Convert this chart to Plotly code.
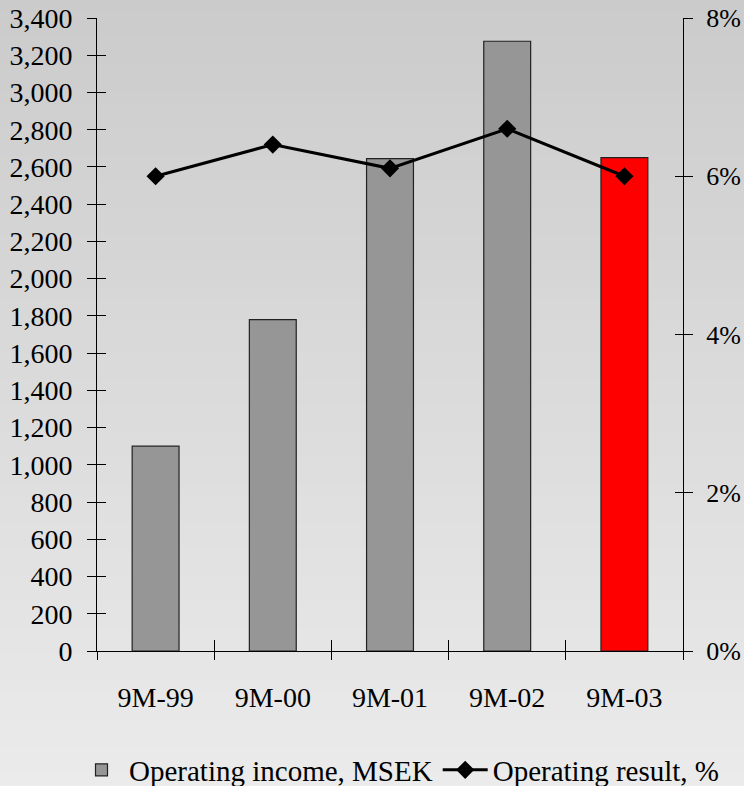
import plotly.graph_objects as go

categories = ["9M-99", "9M-00", "9M-01", "9M-02", "9M-03"]
operating_income = [1100, 1780, 2645, 3275, 2650]
operating_result = [6.0, 6.4, 6.1, 6.6, 6.0]
bar_colors = ["#969696", "#969696", "#969696", "#969696", "#ff0000"]

FONT = '"Times New Roman", "Liberation Serif", "DejaVu Serif", serif'
W, H = 744, 786
ML, MR, MT, MB = 97, 61, 18, 135
PW, PH = W - ML - MR, H - MT - MB

fig = go.Figure()
fig.add_trace(go.Bar(
    x=categories, y=operating_income, name="Operating income, MSEK",
    marker=dict(color=bar_colors, line=dict(color="#222222", width=1.2)),
    yaxis="y", xaxis="x",
))
fig.add_trace(go.Scatter(
    x=categories, y=operating_result, name="Operating result, %",
    mode="lines+markers", line=dict(color="black", width=3),
    marker=dict(symbol="diamond", size=14, color="black"),
    yaxis="y2", xaxis="x",
))
# invisible helper traces for inner ticks
fig.add_trace(go.Scatter(x=categories, y=operating_income, xaxis="x2", yaxis="y3",
                         mode="markers", marker=dict(opacity=0), showlegend=False,
                         hoverinfo="skip"))
fig.add_trace(go.Scatter(x=categories, y=operating_result, xaxis="x", yaxis="y4",
                         mode="markers", marker=dict(opacity=0), showlegend=False,
                         hoverinfo="skip"))

# background gradient bands
shapes = []
N = 60
for i in range(N):
    y0 = i / N
    y1 = (i + 1) / N
    c = int(round(203 + (235 - 203) * (i + 0.5) / N))
    py0 = (H - MB - y0 * H) / PH
    py1 = (H - MB - y1 * H) / PH
    shapes.append(dict(type="rect", xref="paper", yref="paper",
                       x0=-ML / PW - 0.01, x1=(W - ML) / PW + 0.01, y0=py1, y1=py0 + 0.002,
                       fillcolor=f"rgb({c},{c},{c})", line=dict(width=0), layer="below"))

tickfont = dict(family=FONT, size=28, color="black")
rtickfont = dict(family=FONT, size=26, color="black")

fig.update_layout(
    width=W, height=H,
    margin=dict(l=ML, r=MR, t=MT, b=MB, autoexpand=False),
    paper_bgcolor="#dcdcdc", plot_bgcolor="rgba(0,0,0,0)",
    font=dict(family=FONT, size=28, color="black"),
    shapes=shapes,
    bargap=0.6,
    showlegend=True,
    legend=dict(orientation="h", x=(74 - ML) / PW, xanchor="left", y=-0.188, yanchor="middle",
                font=dict(family=FONT, size=29, color="black"),
                bgcolor="rgba(0,0,0,0)", itemwidth=45, tracegroupgap=0),
    xaxis=dict(type="category", showline=True, linecolor="black", linewidth=1,
               ticks="outside", ticklen=8, tickcolor="black", tickson="boundaries",
               tickfont=tickfont, ticklabelstandoff=21, showgrid=False, zeroline=False,
               range=[-0.5, 4.5], automargin=False),
    xaxis2=dict(type="category", overlaying="x", anchor="y", showline=False,
                ticks="inside", ticklen=11, tickcolor="black", tickson="boundaries",
                showticklabels=False, showgrid=False, zeroline=False, range=[-0.5, 4.5]),
    yaxis=dict(range=[0, 3400], dtick=200, tickformat=",d", showline=True,
               linecolor="black", linewidth=1, ticks="outside", ticklen=9,
               tickcolor="black", tickfont=tickfont, ticklabelstandoff=9,
               showgrid=False, zeroline=False, automargin=False),
    yaxis2=dict(range=[0, 8], dtick=2, ticksuffix="%", overlaying="y", side="right",
                anchor="x", showline=True, linecolor="black", linewidth=1,
                ticks="outside", ticklen=9, tickcolor="black", tickfont=rtickfont,
                ticklabelstandoff=8, showgrid=False, zeroline=False, automargin=False),
    yaxis3=dict(range=[0, 3400], dtick=200, overlaying="y", anchor="x", side="left",
                ticks="inside", ticklen=9, tickcolor="black", showticklabels=False,
                showline=False, showgrid=False, zeroline=False),
    yaxis4=dict(range=[0, 8], dtick=2, overlaying="y", anchor="x", side="right",
                ticks="inside", ticklen=8, tickcolor="black", showticklabels=False,
                showline=False, showgrid=False, zeroline=False),
)

fig.write_html("out.html")
